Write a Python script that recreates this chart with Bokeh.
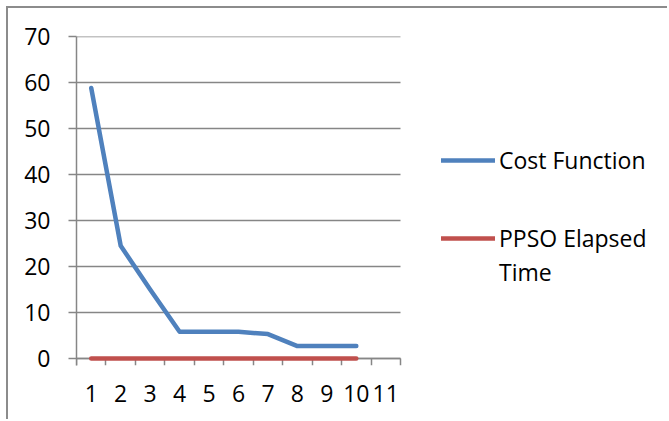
from bokeh.plotting import figure
from bokeh.models import Legend, LegendItem, FixedTicker, Range1d, LinearAxis
from bokeh.embed import file_html
from bokeh.resources import INLINE

categories = [1, 2, 3, 4, 5, 6, 7, 8, 9, 10, 11]
cat_labels = ["1", "2", "3", "4", "5", "6", "7", "8", "9", "10", "11"]
iterations = [1, 2, 3, 4, 5, 6, 7, 8, 9, 10]
cost_function = [58.8, 24.5, 15.0, 5.8, 5.8, 5.8, 5.3, 2.7, 2.7, 2.7]
ppso_elapsed_time = [0, 0, 0, 0, 0, 0, 0, 0, 0, 0]
y_ticks = [0, 10, 20, 30, 40, 50, 60, 70]

FONT = "Open Sans"
GRAY = "#868686"

# layout (pixels)
FRAME_W_CATS = 324.0        # width taken by the category area
FRAME_W = 593.0             # full frame width (legend lives inside the frame, right of the categories)
x_start = categories[0] - 0.5
x_cat_end = categories[-1] + 0.5
x_end = x_start + (x_cat_end - x_start) * FRAME_W / FRAME_W_CATS
boundaries = [c - 0.5 for c in categories] + [x_cat_end]

p = figure(width=661, height=413, output_backend="svg", toolbar_location=None,
           x_range=Range1d(x_start, x_end),
           y_range=Range1d(-1.53, 70),
           min_border_left=68, min_border_top=28, min_border_right=0, min_border_bottom=56)
p.styles = {"margin-left": "6px", "margin-top": "6px",
            "border-top": "2px solid #8c8c8c", "border-left": "2px solid #8c8c8c"}
p.outline_line_color = None
p.background_fill_color = "white"
p.border_fill_color = "white"
p.xgrid.grid_line_color = None
p.ygrid.grid_line_color = None

# horizontal gridlines limited to the category area
p.segment(x0=[x_start] * len(y_ticks), x1=[x_cat_end] * len(y_ticks), y0=y_ticks, y1=y_ticks,
          line_color=GRAY, line_width=1.5, level="underlay")

r1 = p.line(iterations, cost_function, line_color="#4F81BD", line_width=4.5, line_cap="round", line_join="round")
r2 = p.line(iterations, ppso_elapsed_time, line_color="#C0504D", line_width=4.5, line_cap="round", line_join="round")

# x axis labels (at frame bottom)
xa = p.xaxis[0]
xa.bounds = (x_start, x_cat_end)
xa.ticker = FixedTicker(ticks=categories)
xa.major_label_overrides = {c: l for c, l in zip(categories, cat_labels)}
xa.major_tick_out = 0
xa.major_tick_in = 0
xa.minor_tick_line_color = None
xa.axis_line_color = None
xa.major_label_text_font = FONT
xa.major_label_text_font_size = "23px"
xa.major_label_text_color = "black"
xa.major_label_standoff = 19

# x axis line + boundary ticks at y = 0 (kept in the top panel so it takes no bottom space)
xline = LinearAxis(fixed_location=0, bounds=(x_start, x_cat_end),
                   ticker=FixedTicker(ticks=[], minor_ticks=boundaries), level="underlay")
xline.major_tick_out = 0
xline.major_tick_in = 0
xline.major_label_text_font_size = "0px"
xline.minor_tick_out = 0
xline.minor_tick_in = 7
xline.minor_tick_line_color = GRAY
xline.minor_tick_line_width = 1.5
xline.axis_line_color = GRAY
xline.axis_line_width = 1.5
xline.major_label_standoff = 0
p.add_layout(xline, "above")

# y axis
ya = p.yaxis[0]
ya.ticker = FixedTicker(ticks=y_ticks)
ya.major_tick_out = 8
ya.major_tick_in = 0
ya.minor_tick_line_color = None
ya.major_tick_line_color = GRAY
ya.major_tick_line_width = 1.5
ya.axis_line_color = GRAY
ya.axis_line_width = 1.5
ya.major_label_text_font = FONT
ya.major_label_text_font_size = "23px"
ya.major_label_text_color = "black"
ya.major_label_standoff = 18


def make_legend(items, loc, spacing):
    lg = Legend(items=items, location=loc)
    lg.border_line_color = None
    lg.background_fill_alpha = 0
    lg.padding = 0
    lg.margin = 0
    lg.glyph_width = 54
    lg.glyph_height = 20
    lg.label_height = 30
    lg.label_standoff = 4
    lg.spacing = spacing
    lg.label_text_font = FONT
    lg.label_text_font_size = "23px"
    lg.label_text_color = "black"
    return lg


legend_a = make_legend([LegendItem(label="Cost Function", renderers=[r1])], (365, 189), 0)
legend_b = make_legend([LegendItem(label="PPSO Elapsed", renderers=[r2]),
                        LegendItem(label="Time", renderers=[])], (365, 77), 2)
p.add_layout(legend_a)
p.add_layout(legend_b)

open("out.html", "w").write(file_html(p, INLINE))
